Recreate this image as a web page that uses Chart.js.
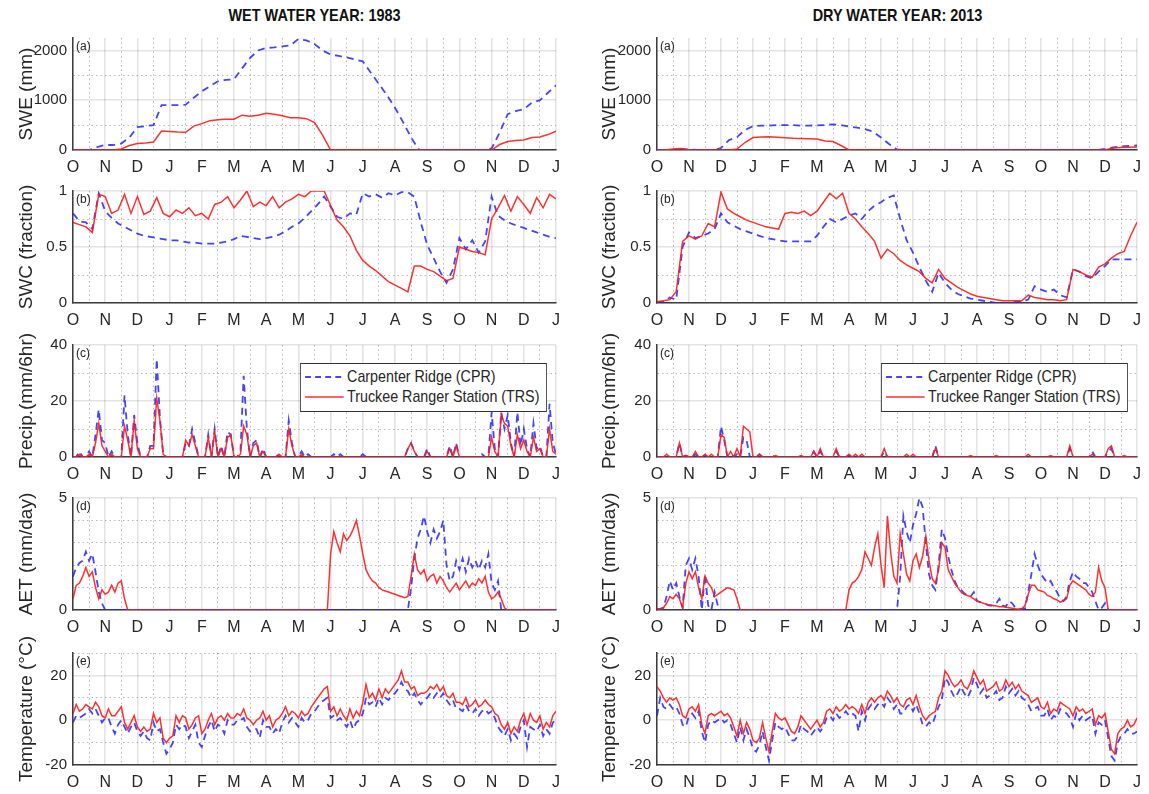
<!DOCTYPE html>
<html>
<head>
<meta charset="utf-8">
<script src="https://cdn.jsdelivr.net/npm/chart.js@4.4.1/dist/chart.umd.min.js"></script>
<style>
  body { margin: 0; background: #fff; width: 1149px; height: 794px; position: relative; overflow: hidden; }
  canvas { position: absolute; }
  .title { position: absolute; top: 6px; text-align: center; color: #111; transform: scaleX(0.85);
    font: bold 17px 'Liberation Sans', Arial, sans-serif; }
  .legend { position: absolute; background: #fff; border: 1.6px solid #333; padding: 3px 8px 4px 4px;
    transform: scaleX(0.84); transform-origin: right top;
    font: 17px 'Liberation Sans', Arial, sans-serif; color: #262626; }
  .legend .item { display: flex; align-items: center; height: 20px; white-space: nowrap; }
  .legend svg { margin-right: 3px; }
</style>
</head>
<body>
<script>
const MONTHS = ['O', 'N', 'D', 'J', 'F', 'M', 'A', 'M', 'J', 'J', 'A', 'S', 'O', 'N', 'D', 'J'];

// (a) SWE, mm -- one value every quarter month
const swe1983Cpr = [
  0, 0, 0, 60,  100, 100, 130, 250,  460, 480, 500, 900,  900, 900, 910, 1050,
  1180, 1280, 1380, 1410,  1420, 1640, 1850, 2000,  2050, 2060, 2080, 2100,  2230, 2200, 2130, 2000,
  1920, 1890, 1860, 1820,  1780, 1550, 1330, 1100,  850, 560, 250, 0,  0, 0, 0, 0,
  0, 0, 0, 0,  30, 350, 720, 780,  820, 950, 1000, 1150,  1300];
const swe1983Trs = [
  0, 0, 0, 0,  0, 0, 20, 90,  130, 140, 160, 380,  370, 360, 355, 480,
  530, 590, 610, 620,  620, 700, 680, 700,  740, 720, 690, 650,  650, 630, 550, 300,
  0, 0, 0, 0,  0, 0, 0, 0,  0, 0, 0, 0,  0, 0, 0, 0,
  0, 0, 0, 0,  0, 110, 170, 190,  200, 250, 260, 310,  380];
const swe2013Cpr = [
  0, 0, 0, 15,  10, 0, 0, 0,  40, 200, 260, 400,  480, 490, 490, 500,
  500, 500, 490, 490,  495, 500, 515, 500,  470, 450, 420, 370,  250, 120, 10, 0,
  0, 0, 0, 0,  0, 0, 0, 0,  0, 0, 0, 0,  0, 0, 0, 0,
  0, 0, 0, 0,  0, 0, 0, 0,  20, 50, 70, 80,  90];
const swe2013Trs = [
  0, 0, 20, 30,  0, 0, 0, 0,  0, 0, 20, 150,  250, 260, 265, 255,
  245, 235, 230, 225,  220, 180, 170, 90,  0, 0, 0, 0,  0, 0, 0, 0,
  0, 0, 0, 0,  0, 0, 0, 0,  0, 0, 0, 0,  0, 0, 0, 0,
  0, 0, 0, 0,  0, 0, 0, 0,  0, 40, 50, 55,  60];

// (b) soil water content, fraction -- five values per month
const swc1983Cpr = [
  0.80, 0.73, 0.72, 0.66, 0.98,  0.82, 0.76, 0.71, 0.68, 0.65,  0.62, 0.60, 0.59, 0.58, 0.57,
  0.56, 0.56, 0.55, 0.54, 0.54,  0.53, 0.53, 0.53, 0.54, 0.55,  0.57, 0.60, 0.59, 0.58, 0.57,
  0.58, 0.59, 0.61, 0.64, 0.68,  0.71, 0.76, 0.82, 0.88, 0.95,  0.86, 0.77, 0.75, 0.80, 0.79,
  0.98, 0.95, 0.97, 0.94, 0.98,  0.96, 0.99, 0.99, 0.95, 0.72,  0.52, 0.40, 0.28, 0.18, 0.30,
  0.58, 0.48, 0.56, 0.45, 0.55,  0.95, 0.78, 0.74, 0.71, 0.69,  0.67, 0.65, 0.63, 0.61, 0.59,
  0.58];
const swc1983Trs = [
  0.72, 0.70, 0.68, 0.63, 0.97,  0.95, 0.80, 0.83, 0.97, 0.80,  0.95, 0.79, 0.82, 0.94, 0.80,
  0.77, 0.83, 0.80, 0.85, 0.78,  0.80, 0.75, 0.88, 0.90, 0.95,  0.85, 0.92, 1.00, 0.86, 0.90,
  0.87, 0.95, 0.85, 0.90, 0.93,  0.97, 0.95, 1.00, 1.00, 1.00,  0.87, 0.74, 0.68, 0.60, 0.47,
  0.38, 0.33, 0.29, 0.24, 0.19,  0.16, 0.13, 0.10, 0.33, 0.33,  0.30, 0.28, 0.24, 0.20, 0.22,
  0.50, 0.48, 0.46, 0.45, 0.43,  0.75, 0.85, 0.96, 0.82, 0.95,  0.88, 0.80, 0.94, 0.85, 0.97,
  0.93];
const swc2013Cpr = [
  0.01, 0.01, 0.05, 0.03, 0.50,  0.63, 0.58, 0.60, 0.62, 0.66,  0.80, 0.72, 0.69, 0.66, 0.64,
  0.62, 0.60, 0.58, 0.57, 0.56,  0.55, 0.55, 0.55, 0.55, 0.55,  0.60, 0.68, 0.75, 0.72, 0.75,
  0.78, 0.80, 0.75, 0.82, 0.87,  0.90, 0.94, 0.96, 0.75, 0.56,  0.45, 0.32, 0.20, 0.10, 0.27,
  0.18, 0.12, 0.08, 0.06, 0.04,  0.03, 0.02, 0.01, 0.00, 0.00,  0.00, 0.01, 0.01, 0.03, 0.15,
  0.12, 0.10, 0.12, 0.07, 0.05,  0.30, 0.28, 0.24, 0.22, 0.28,  0.33, 0.39, 0.39, 0.39, 0.39,
  0.39];
const swc2013Trs = [
  0.01, 0.02, 0.03, 0.10, 0.55,  0.60, 0.57, 0.60, 0.71, 0.68,  0.99, 0.84, 0.80, 0.77, 0.74,
  0.72, 0.70, 0.68, 0.67, 0.66,  0.80, 0.81, 0.80, 0.82, 0.78,  0.82, 0.90, 0.98, 0.93, 0.98,
  0.80, 0.75, 0.68, 0.62, 0.55,  0.40, 0.48, 0.44, 0.38, 0.34,  0.31, 0.28, 0.22, 0.18, 0.30,
  0.22, 0.18, 0.14, 0.11, 0.08,  0.06, 0.05, 0.04, 0.03, 0.02,  0.02, 0.02, 0.02, 0.07, 0.05,
  0.04, 0.03, 0.03, 0.02, 0.03,  0.30, 0.28, 0.25, 0.23, 0.32,  0.35, 0.40, 0.44, 0.46, 0.60,
  0.72];

// (c) precipitation, mm/6hr -- ten values per month (one row = one month)
const precip1983Cpr = [
  0, 0, 2, 0, 0, 2, 0, 8, 17, 6,
  5, 0, 2, 0, 0, 0, 22, 8, 0, 15,
  5, 0, 0, 0, 4, 4, 35, 14, 1, 0,
  0, 0, 0, 0, 0, 5, 4, 10, 5, 0,
  0, 0, 8, 0, 10, 0, 4, 0, 9, 8,
  0, 0, 2, 29, 10, 0, 5, 6, 0, 3,
  0, 0, 0, 0, 1, 0, 0, 13, 5, 0,
  0, 2, 0, 1, 0, 0, 0, 0, 0, 0,
  0, 1, 0, 1, 0, 0, 0, 0, 0, 0,
  1, 0, 0, 0, 0, 0, 0, 0, 0, 0,
  0, 0, 0, 0, 3, 5, 2, 0, 0, 0,
  3, 0, 0, 0, 0, 0, 0, 4, 0, 5,
  0, 0, 0, 0, 0, 0, 0, 1, 0, 0,
  16, 3, 0, 16, 10, 15, 5, 0, 16, 4,
  10, 3, 0, 12, 3, 4, 0, 0, 19, 5,
  1];
const precip1983Trs = [
  0, 0, 1, 0, 0, 1, 0, 5, 12, 4,
  2, 0, 1, 0, 0, 0, 11, 6, 0, 13,
  3, 0, 0, 0, 3, 3, 21, 13, 1, 0,
  0, 0, 0, 0, 0, 6, 4, 8, 4, 0,
  0, 0, 7, 0, 9, 0, 3, 0, 7, 8,
  0, 0, 1, 11, 8, 0, 4, 5, 0, 2,
  0, 0, 0, 0, 1, 0, 0, 10, 4, 0,
  0, 1, 0, 0, 0, 0, 0, 0, 0, 0,
  0, 0, 0, 0, 0, 0, 0, 0, 0, 0,
  0, 0, 0, 0, 0, 0, 0, 0, 0, 0,
  0, 0, 0, 0, 3, 5, 2, 0, 0, 0,
  2, 0, 0, 0, 0, 0, 0, 3, 0, 4,
  0, 0, 0, 0, 0, 0, 0, 0, 0, 0,
  7, 2, 0, 15, 12, 11, 4, 0, 8, 3,
  6, 2, 0, 7, 2, 3, 0, 0, 10, 2,
  1];
const precip2013Cpr = [
  0, 0, 0, 0.5, 0, 0, 0, 5, 0, 0.5,
  0, 0, 1, 0, 0, 0.5, 0, 0.5, 0, 0,
  11, 6, 0, 1, 0, 1, 0, 7, 6, 0,
  0, 0, 1, 0, 0, 0, 0, 0.5, 0, 0,
  0, 0, 0, 0, 0, 0, 0, 0, 0, 2,
  0, 2, 0, 0, 0, 0, 2, 0, 0, 0,
  0.5, 0, 0, 0, 0, 0, 0, 0, 0, 0,
  0, 2, 0, 0, 0, 0, 0, 0, 0, 0,
  0, 0, 0, 0, 0, 0, 0, 4, 0, 0,
  0, 0, 0, 0, 0, 0, 0, 0, 0, 0,
  0, 0, 0, 0, 0, 0, 0, 0, 0, 0,
  0, 0, 0, 0, 0, 0, 0, 0, 0, 0,
  0, 0, 0, 0, 0, 0, 0, 0, 0, 3,
  0, 0, 0, 0, 0, 0, 2, 0, 0, 0,
  0, 2, 3, 0, 0, 0, 0, 0, 0, 0,
  0];
const precip2013Trs = [
  0, 0, 0, 1, 0, 0, 0, 5, 0, 0.5,
  0, 0, 2, 0, 0, 1, 0, 1, 0, 0,
  8, 7, 0, 2, 0, 3, 0, 11, 10, 9,
  0, 0, 1, 0, 0, 0, 0, 0.5, 0, 0,
  0, 0, 0, 0, 0, 0.5, 0, 0, 0, 2,
  0, 3, 0, 0, 0, 0, 3, 0, 0, 0,
  1, 0, 1, 0, 1, 0, 0, 0, 0, 0,
  0, 3, 0, 0, 0, 0, 0, 0, 1, 0,
  1, 0, 0, 0, 0, 0, 0, 3, 0, 0,
  0, 0, 0, 0, 0, 0, 0, 0, 0.5, 0,
  0, 0, 0, 0, 0, 0, 0.5, 0, 0, 0,
  0, 0, 0, 0, 0, 0, 1, 0, 0, 0,
  0, 0, 0, 0.5, 0, 0, 0, 0, 0, 4,
  0, 0, 0, 0, 0, 0, 1, 0, 0, 0,
  0, 3, 4, 0, 0, 0, 0.5, 0, 0, 0,
  0];

// (d) actual evapotranspiration, mm/day -- ten values per month
const aet1983Cpr = [
  1.5, 1.9, 2.1, 2.2, 2.6, 2.2, 2.5, 1.7, 0.8, 0.3,
  0, 0, 0, 0, 0, 0, 0, 0, 0, 0,
  0, 0, 0, 0, 0, 0, 0, 0, 0, 0,
  0, 0, 0, 0, 0, 0, 0, 0, 0, 0,
  0, 0, 0, 0, 0, 0, 0, 0, 0, 0,
  0, 0, 0, 0, 0, 0, 0, 0, 0, 0,
  0, 0, 0, 0, 0, 0, 0, 0, 0, 0,
  0, 0, 0, 0, 0, 0, 0, 0, 0, 0,
  0, 0, 0, 0, 0, 0, 0, 0, 0, 0,
  0, 0, 0, 0, 0, 0, 0, 0, 0, 0,
  0, 0, 0, 0, 0, 1.0, 2.3, 3.2, 3.6, 4.2,
  3.5, 3.0, 3.6, 3.2, 3.5, 4.0, 2.0, 1.3, 1.5, 2.2,
  1.8, 2.3, 1.7, 2.3, 1.9, 2.2, 1.8, 2.2, 1.9, 2.5,
  1.2, 0.9, 1.3, 0, 0, 0, 0, 0, 0, 0,
  0, 0, 0, 0, 0, 0, 0, 0, 0, 0,
  0];
const aet1983Trs = [
  0.5, 1.1, 1.2, 1.5, 1.9, 1.5, 1.7, 1.0, 0.5, 0.9,
  0.7, 0.8, 1.1, 0.8, 1.2, 1.3, 0.5, 0, 0, 0,
  0, 0, 0, 0, 0, 0, 0, 0, 0, 0,
  0, 0, 0, 0, 0, 0, 0, 0, 0, 0,
  0, 0, 0, 0, 0, 0, 0, 0, 0, 0,
  0, 0, 0, 0, 0, 0, 0, 0, 0, 0,
  0, 0, 0, 0, 0, 0, 0, 0, 0, 0,
  0, 0, 0, 0, 0, 0, 0, 0, 0, 0,
  2.5, 3.5, 3.0, 2.6, 3.4, 3.1, 3.3, 3.6, 4.0, 3.3,
  2.5, 1.8, 1.5, 1.3, 1.2, 1.0, 0.9, 0.85, 0.8, 0.75,
  0.7, 0.65, 0.6, 0.55, 0.6, 1.5, 2.5, 1.8, 1.6, 1.8,
  1.3, 1.5, 1.6, 1.2, 1.5, 1.3, 1.0, 0.8, 1.0, 1.2,
  0.9, 1.1, 1.3, 1.0, 1.2, 1.1, 1.4, 1.2, 1.5, 0.8,
  0.5, 0.6, 0.8, 0.5, 0.1, 0, 0, 0, 0, 0,
  0, 0, 0, 0, 0, 0, 0, 0, 0, 0,
  0];
const aet2013Cpr = [
  0.05, 0.05, 0.1, 0.6, 1.3, 0.9, 1.2, 0.6, 0.1, 2.0,
  2.3, 1.8, 2.3, 1.5, 0, 1.6, 0.2, 0, 0.8, 0.2,
  0, 0, 0, 0, 0, 0, 0, 0, 0, 0,
  0, 0, 0, 0, 0, 0, 0, 0, 0, 0,
  0, 0, 0, 0, 0, 0, 0, 0, 0, 0,
  0, 0, 0, 0, 0, 0, 0, 0, 0, 0,
  0, 0, 0, 0, 0, 0, 0, 0, 0, 0,
  0, 0, 0, 0, 0, 0, 1.5, 4.2, 3.5, 3.0,
  3.8, 4.3, 5.0, 4.6, 3.0, 1.6, 1.1, 0.9, 2.0, 3.6,
  3.2, 2.4, 1.8, 1.3, 1.0, 0.9, 0.75, 0.65, 0.6, 0.8,
  0.4, 0.35, 0.3, 0.25, 0.2, 0.2, 0.3, 0.5, 0.2, 0.15,
  0.4, 0.3, 0.1, 0.05, 0.05, 0.05, 0.8, 1.6, 2.5, 2.0,
  1.6, 1.4, 1.2, 1.3, 1.0, 0.8, 0.5, 0.4, 0.6, 1.3,
  1.7, 1.5, 1.4, 1.2, 1.2, 1.0, 0.8, 0.4, 0, 0.1,
  0.3, 0, 0, 0, 0, 0, 0, 0, 0, 0,
  0];
const aet2013Trs = [
  0.05, 0.05, 0.1, 0.3, 0.6, 0.5, 0.7, 0.5, 0.1, 1.2,
  1.7, 1.4, 1.7, 1.0, 0.5, 1.5, 1.2, 1.0, 0.6, 0.7,
  0.8, 0.9, 1.0, 0.95, 0.9, 0.5, 0, 0, 0, 0,
  0, 0, 0, 0, 0, 0, 0, 0, 0, 0,
  0, 0, 0, 0, 0, 0, 0, 0, 0, 0,
  0, 0, 0, 0, 0, 0, 0, 0, 0, 0,
  0.9, 1.2, 1.3, 1.5, 1.8, 2.6, 2.3, 2.0, 2.8, 3.4,
  2.0, 1.0, 4.2, 2.6, 1.5, 1.2, 3.4, 2.5, 1.6, 1.3,
  2.2, 2.5, 1.9, 2.4, 3.3, 2.2, 1.4, 1.2, 1.8, 3.0,
  2.8, 1.8, 1.5, 1.2, 1.0, 0.8, 0.7, 0.65, 0.6, 0.5,
  0.4, 0.35, 0.3, 0.25, 0.22, 0.2, 0.18, 0.15, 0.15, 0.12,
  0.1, 0.08, 0.06, 0.05, 0.05, 0.2, 0.7, 1.1, 1.1, 0.9,
  0.85, 0.8, 0.65, 0.6, 0.5, 0.45, 0.35, 0.4, 0.5, 1.1,
  1.3, 1.2, 1.1, 1.0, 0.9, 0.7, 0.6, 0.8, 1.9, 1.3,
  1.0, 0, 0, 0, 0, 0, 0, 0, 0, 0,
  0];

// (e) air temperature, deg C -- ten values per month
const temp1983Cpr = [
  -1, 2, 1, 2, 3, 5, 3, 5, 2, -1,
  1, 1, -3, -6, -2, 0, -3, -6, -3, -1,
  -5, -7, -5, -8, -9, -1, -5, -4, -10, -15,
  -13, -10, -2, -4, -2, -3, -8, -5, -2, -10,
  -12, -7, -3, 0, -5, -2, -3, -6, 0, -2,
  -2, 0, 0, 1, -3, -5, -4, -4, -8, 0,
  -3, -3, -6, -4, -6, -1, 2, -1, 1, -1,
  -3, 1, -1, 0, 3, 4, 6, 8, 9, 10,
  1, 2, 0, 1, -1, -3, 0, -4, -1, 0,
  3, 10, 7, 8, 6, 10, 7, 10, 9, 11,
  12, 14, 17, 14, 13, 10, 12, 9, 7, 9,
  10, 12, 10, 12, 10, 12, 9, 7, 9, 5,
  5, 4, 7, 4, 3, 5, 2, 4, 5, 3,
  4, 1, -3, -5, -7, -4, -9, -6, -8, -3,
  0, -12, -3, -4, -5, -2, -7, -4, -6, -1,
  0];
const temp1983Trs = [
  3, 7, 4, 5, 7, 6, 5, 8, 6, 2,
  1, 5, 2, 2, 4, 6, -1, -4, -1, 2,
  -3, -5, -3, -5, -4, 3, -1, 1, -8, -10,
  -8, -7, 2, -1, 2, 1, -4, -2, 1, 2,
  -6, -4, 0, 3, -2, 1, 2, 0, 3, 1,
  1, 3, 2, 5, 1, 0, -2, 0, 1, 4,
  0, 2, -3, 0, 1, 3, 6, 2, 4, 3,
  1, 4, 2, 3, 6, 8, 10, 12, 14, 15,
  4, 6, 2, 5, 2, 0, 5, 1, 4, 2,
  8, 16, 10, 12, 9, 14, 10, 14, 12, 14,
  16, 18, 22, 17, 17, 14, 15, 11, 12, 12,
  13, 15, 14, 16, 13, 15, 11, 10, 12, 8,
  8, 7, 10, 6, 7, 9, 6, 7, 9, 7,
  6, 3, 2, -2, -4, -1, -6, -3, -5, 0,
  3, -2, 3, 0, -1, 2, -4, -1, -3, 2,
  4];
const temp2013Cpr = [
  2, 10, 6, 5, 7, 5, 6, 3, -2, -3,
  2, 3, 1, 4, -5, -10, -2, 0, -1, 0,
  1, -1, 0, -2, -6, -10, -3, -9, -4, -8,
  -13, -14, -11, -5, -12, -18, -9, -1, -3, -4,
  -3, -6, -9, -9, -7, -2, -4, -5, -7, -5,
  -3, -5, -3, 1, 2, 0, 3, 1, 2, 4,
  2, 3, 2, -5, 4, 0, 5, 7, 5, 7,
  8, 6, 10, 8, 5, 7, 3, 3, 6, 7,
  4, 7, 3, -2, -3, -1, -2, 2, 6, 9,
  19, 17, 13, 10, 12, 15, 12, 10, 13, 19,
  16, 12, 14, 10, 11, 11, 13, 9, 10, 15,
  12, 14, 11, 13, 10, 9, 7, 4, 5, 6,
  2, 2, 5, 0, 2, 1, 5, 4, 3, 1,
  -3, 3, 0, 2, 0, 1, 2, -6, -1, -2,
  0, -8, -16, -18, -10, -7, -6, -4, -6, -6,
  -5];
const temp2013Trs = [
  15, 13, 10, 8, 10, 9, 10, 7, 2, 1,
  5, 6, 4, 7, -2, -6, 2, 3, 2, 3,
  4, 2, 3, 1, -3, -7, 0, -6, -1, -4,
  -9, -10, -8, -1, -8, -14, -5, 3, 1, 0,
  1, -2, -5, -6, -3, 2, 0, -2, -4, -2,
  0, -3, -1, 4, 5, 3, 6, 4, 5, 7,
  5, 6, 5, 3, 7, 3, 8, 10, 8, 10,
  11, 9, 13, 11, 8, 10, 7, 6, 9, 10,
  7, 11, 6, 2, 0, 2, 3, 4, 10, 13,
  22, 20, 17, 15, 16, 18, 15, 14, 17, 22,
  19, 16, 18, 13, 14, 15, 17, 13, 14, 18,
  15, 17, 14, 16, 13, 12, 11, 8, 9, 10,
  6, 5, 8, 3, 5, 4, 8, 7, 6, 5,
  2, 6, 4, 5, 3, 4, 5, -2, 2, 1,
  3, -5, -13, -15, -6, -4, -3, 0, -3, -2,
  1];

const SPAN = 15; // months on the axis, October to January of the second winter
const FONT = "'Liberation Sans', Arial, sans-serif";

const COLS = [
  { x: 0, w: 570, yw: 73, right: 14, title: 'WET WATER YEAR: 1983' },
  { x: 583, w: 566, yw: 74, right: 11, title: 'DRY WATER YEAR: 2013' },
];
const ROW_TOP = [38, 191, 345, 498, 653];
const PLOT_H = 112, PAD_TOP = 20, X_AXIS_H = 30;

const panels = [
  { tag: '(a)', label: 'SWE (mm)', min: 0, max: 2250, major: 1000, minor: 500,
    cols: [[swe1983Cpr, swe1983Trs], [swe2013Cpr, swe2013Trs]] },
  { tag: '(b)', label: 'SWC (fraction)', min: 0, max: 1, major: 0.5, minor: 0.25,
    cols: [[swc1983Cpr, swc1983Trs], [swc2013Cpr, swc2013Trs]] },
  { tag: '(c)', label: 'Precip.(mm/6hr)', min: 0, max: 40, major: 20, minor: 10, legend: true,
    cols: [[precip1983Cpr, precip1983Trs], [precip2013Cpr, precip2013Trs]] },
  { tag: '(d)', label: 'AET (mm/day)', min: 0, max: 5, major: 5, minor: 1,
    cols: [[aet1983Cpr, aet1983Trs], [aet2013Cpr, aet2013Trs]] },
  { tag: '(e)', label: 'Temperature (°C)', min: -20, max: 30, major: 20, minor: 10,
    cols: [[temp1983Cpr, temp1983Trs], [temp2013Cpr, temp2013Trs]] },
];

const near = (v, s) => Math.abs(v / s - Math.round(v / s)) < 1e-6;

// values are evenly spaced over the 15 months
function series(values) {
  const step = SPAN / (values.length - 1);
  return values.map((v, i) => ({ x: i * step, y: v }));
}

// tick values every `step` between lo and hi
function tickValues(lo, hi, step) {
  const out = [];
  for (let k = Math.ceil(lo / step - 1e-9); k * step <= hi + 1e-9; k++) {
    out.push({ value: Math.round(k * step * 1000) / 1000 });
  }
  return out;
}

const MAJOR_GRID = 'rgba(0,0,0,0.11)';
const MINOR_GRID = 'rgba(0,0,0,0.28)';

const panelTag = {
  id: 'panelTag',
  afterDatasetsDraw(chart, args, opts) {
    const { ctx, chartArea } = chart;
    ctx.save();
    ctx.font = '12px ' + FONT;
    ctx.fillStyle = '#222';
    ctx.textBaseline = 'top';
    ctx.fillText(opts.text, chartArea.left + 3, chartArea.top + 3);
    ctx.restore();
  }
};

function addLegend(chart, left, top) {
  const box = document.createElement('div');
  box.className = 'legend';
  chart.data.datasets.forEach(ds => {
    const row = document.createElement('div');
    row.className = 'item';
    const dash = (ds.borderDash || []).join(',');
    row.innerHTML = '<svg width="48" height="10"><line x1="1" y1="5" x2="47" y2="5" stroke="' + ds.borderColor +
      '" stroke-width="' + (ds.borderWidth + 0.2) + '" stroke-dasharray="' + dash + '"/></svg><span>' + ds.label + '</span>';
    box.appendChild(row);
  });
  const a = chart.chartArea;
  box.style.right = (1149 - (left + a.right) + 9) + 'px';
  box.style.top = (top + a.top + 18) + 'px';
  document.body.appendChild(box);
}

COLS.forEach(col => {
  const t = document.createElement('div');
  t.className = 'title';
  t.style.left = (col.x + col.yw) + 'px';
  t.style.width = (col.w - col.yw - col.right) + 'px';
  t.textContent = col.title;
  document.body.appendChild(t);
});

panels.forEach((p, r) => {
  COLS.forEach((col, c) => {
    const [cpr, trs] = p.cols[c];
    const canvas = document.createElement('canvas');
    canvas.width = col.w;
    canvas.height = PAD_TOP + PLOT_H + X_AXIS_H;
    canvas.style.left = col.x + 'px';
    canvas.style.top = (ROW_TOP[r] - PAD_TOP) + 'px';
    document.body.appendChild(canvas);

    const chart = new Chart(canvas, {
      type: 'line',
      data: {
        datasets: [
          {
            label: 'Carpenter Ridge (CPR)',
            data: series(cpr),
            borderColor: 'rgba(35,35,255,0.85)',
            borderWidth: 1.8,
            borderDash: [7, 5],
            pointRadius: 0,
            order: 1,
          },
          {
            label: 'Truckee Ranger Station (TRS)',
            data: series(trs),
            borderColor: 'rgba(255,25,25,0.9)',
            borderWidth: 1.5,
            pointRadius: 0,
            order: 0,
          },
        ],
      },
      options: {
        responsive: false,
        animation: false,
        events: [],
        layout: { padding: { top: PAD_TOP, right: col.right, left: 0, bottom: 0 } },
        plugins: {
          legend: { display: false },
          tooltip: { enabled: false },
          panelTag: { text: p.tag },
        },
        scales: {
          x: {
            type: 'linear',
            min: 0,
            max: SPAN,
            afterFit: s => { s.height = X_AXIS_H; },
            afterBuildTicks: s => { s.ticks = tickValues(0, SPAN, 0.5); },
            ticks: {
              autoSkip: false,
              maxRotation: 0,
              padding: 8,
              color: '#262626',
              font: { family: FONT, size: 16 },
              callback: v => near(v, 1) ? MONTHS[Math.round(v)] : '',
            },
            grid: {
              drawTicks: false,
              color: ctx => near(ctx.tick.value, 1) ? MAJOR_GRID : MINOR_GRID,
              lineWidth: ctx => near(ctx.tick.value, 1) ? 1.6 : 1,
            },
            border: {
              color: '#3c3c3c',
              width: 1.5,
              dash: ctx => (ctx.tick && !near(ctx.tick.value, 1)) ? [1.5, 3] : [],
            },
          },
          y: {
            min: p.min,
            max: p.max,
            afterFit: s => { s.width = col.yw; },
            afterBuildTicks: s => { s.ticks = tickValues(p.min, p.max, p.minor); },
            title: {
              display: true,
              text: p.label,
              color: '#262626',
              font: { family: FONT, size: 19 },
              padding: { top: 15, bottom: 0 },
            },
            ticks: {
              padding: 6,
              color: '#262626',
              font: { family: FONT, size: 15 },
              callback: v => near(v, p.major) ? String(Math.round(v * 100) / 100) : '',
            },
            grid: {
              drawTicks: false,
              color: ctx => near(ctx.tick.value, p.major) ? MAJOR_GRID : MINOR_GRID,
              lineWidth: ctx => near(ctx.tick.value, p.major) ? 1.6 : 1,
            },
            border: {
              color: '#3c3c3c',
              width: 1.5,
              dash: ctx => (ctx.tick && !near(ctx.tick.value, p.major)) ? [1.5, 3] : [],
            },
          },
        },
      },
      plugins: [panelTag],
    });

    if (p.legend) addLegend(chart, col.x, ROW_TOP[r] - PAD_TOP);
  });
});
</script>
</body>
</html>
